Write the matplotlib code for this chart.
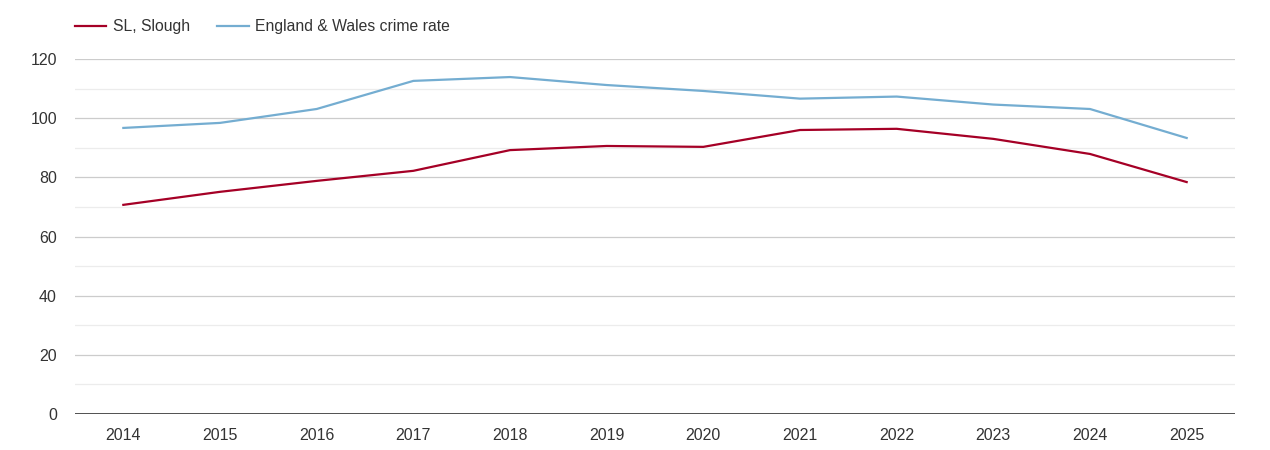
import matplotlib
matplotlib.use("Agg")
import matplotlib.pyplot as plt
from matplotlib.lines import Line2D

years = ["2014", "2015", "2016", "2017", "2018", "2019", "2020", "2021", "2022", "2023", "2024", "2025"]
slough = [70.7, 75.1, 78.8, 82.2, 89.2, 90.6, 90.3, 96.0, 96.4, 93.0, 87.9, 78.4]
england_wales = [96.7, 98.4, 103.1, 112.6, 113.9, 111.2, 109.2, 106.6, 107.3, 104.6, 103.1, 93.3]
series_names = ["SL, Slough", "England & Wales crime rate"]
major_ticks = [0, 20, 40, 60, 80, 100, 120]
minor_ticks = [10, 30, 50, 70, 90, 110]

red = "#a50026"
blue = "#74add1"
text_col = "#333333"

plt.rcParams["font.family"] = ["Liberation Sans", "DejaVu Sans"]

fig = plt.figure(figsize=(12.7, 4.5), dpi=100)
ax = fig.add_axes([75 / 1270, 1 - 414 / 450, (1235 - 75) / 1270, (414 - 59) / 450])

x = list(range(len(years)))
ax.plot(x, slough, color=red, lw=1.6, solid_joinstyle="round", zorder=3)
ax.plot(x, england_wales, color=blue, lw=1.6, solid_joinstyle="round", zorder=3)

ax.set_xlim(-0.5, len(years) - 0.5)
ax.set_ylim(0, 120)
ax.set_xticks(x)
ax.set_xticklabels(years)
ax.set_yticks(major_ticks)
ax.set_yticks(minor_ticks, minor=True)
for t in major_ticks[1:]:
    ax.axhline(t, color="#cccccc", lw=0.9, zorder=1)
for t in minor_ticks:
    ax.axhline(t, color="#ececec", lw=0.9, zorder=1)
ax.axhline(0, color="#333333", lw=1.2, zorder=2)

for s in ax.spines.values():
    s.set_visible(False)
ax.tick_params(axis="both", which="both", length=0, labelsize=11.5, colors=text_col)
ax.tick_params(axis="x", pad=10)
ax.tick_params(axis="y", pad=13)

handles = [Line2D([], [], color=red, lw=1.6), Line2D([], [], color=blue, lw=1.6)]
leg = fig.legend(handles, series_names, loc="upper left", bbox_to_anchor=(75 / 1270, 1 - 19 / 450),
                 ncol=2, frameon=False, fontsize=11.3, handlelength=2.0, handletextpad=0.4,
                 columnspacing=1.75, labelcolor=text_col, borderpad=0, borderaxespad=0)

fig.savefig("out.png", dpi=100, facecolor="white")
